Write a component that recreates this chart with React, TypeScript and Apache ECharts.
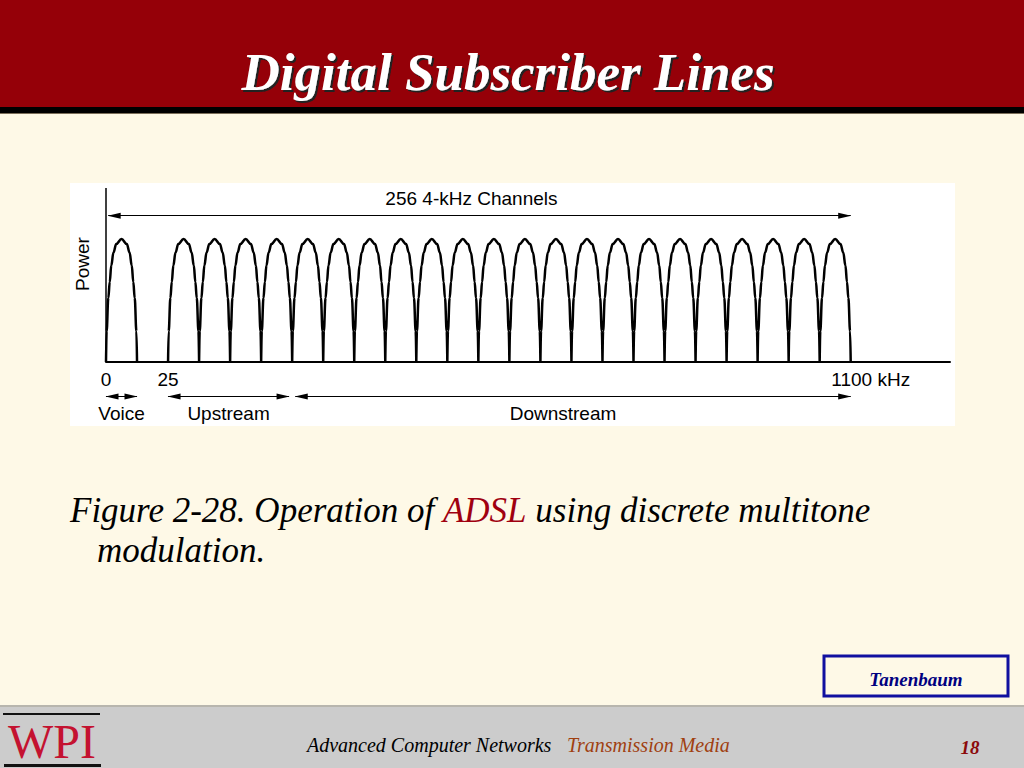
import React, { useEffect, useRef } from "react";
import * as echarts from "echarts";

// ---- data (x in channel units, y in relative power) ----
const channelStarts = [0, 2, 3, 4, 5, 6, 7, 8, 9, 10, 11, 12, 13, 14, 15, 16, 17, 18, 19, 20, 21, 22, 23];
const channelPeaks = [1, 1, 1, 1, 1, 1, 1, 1, 1, 1, 1, 1, 1, 1, 1, 1, 1, 1, 1, 1, 1, 1, 1];
// shape of one channel lobe (relative position, relative power)
const lobeT = [0, 0.02, 0.075, 0.12, 0.17, 0.24, 0.33, 0.5, 0.67, 0.76, 0.83, 0.88, 0.925, 0.98, 1];
const lobeH = [0, 0.25, 0.52, 0.65, 0.785, 0.89, 0.96, 1, 0.96, 0.89, 0.785, 0.65, 0.52, 0.25, 0];

const bandNames = ["256 4-kHz Channels", "Voice", "Upstream", "Downstream"];
const bandFrom = [0.07, 0, 2, 6.1];
const bandTo = [24, 1, 5.9, 24];
const bandLabelShift = [-8, 0, 0, -10];

const tickValues = [0, 2, 24];
const tickLabels = ["0", "25", "1100 kHz"];

const SANS = '"Liberation Sans", Arial, Helvetica, sans-serif';
const SERIF = '"Liberation Serif", "Times New Roman", serif';

export default function App() {
  const ref = useRef<HTMLDivElement>(null);

  useEffect(() => {
    if (!ref.current) return;
    const chart = echarts.init(ref.current, undefined, { renderer: "svg" });

    const lobeData: any[] = [];
    channelStarts.forEach((s, i) => {
      lobeT.forEach((t, j) => lobeData.push([s + t, lobeH[j] * channelPeaks[i]]));
      lobeData.push([s + 1, "-"]);
    });

    const head = { symbol: "triangle", symbolSize: [6, 13], symbolOffset: [0, 6] };
    const bandLines = bandNames.map((name, i) => {
      const y = i === 0 ? 1.19 : -0.28;
      return [
        {
          coord: [bandFrom[i], y],
          name,
          ...head,
          label: {
            show: true,
            formatter: "{b}",
            position: i === 0 ? "insideMiddleTop" : "insideMiddleBottom",
            distance: 8,
            offset: [bandLabelShift[i], 0],
            color: "#000",
            fontSize: 19,
            fontFamily: SANS,
          },
        },
        { coord: [bandTo[i], y], ...head },
      ];
    });

    const option: any = {
      animation: false,
      backgroundColor: "#FEF9E7",
      textStyle: { fontFamily: SANS },
      grid: { left: 106, top: 188, width: 844, height: 238, show: false },
      xAxis: {
        type: "value",
        min: 0,
        max: 27.2,
        interval: 1,
        offset: -64,
        axisLine: { show: true, onZero: false, lineStyle: { color: "#000", width: 2 } },
        axisTick: { show: false },
        splitLine: { show: false },
        axisLabel: {
          customValues: tickValues,
          margin: 8,
          color: "#000",
          fontSize: 19,
          fontFamily: SANS,
          formatter: (v: number) => {
            const k = tickValues.indexOf(v);
            if (k < 0) return "";
            if (k === tickValues.length - 1) return "{w|" + tickLabels[k] + "}";
            return tickLabels[k];
          },
          rich: {
            w: { padding: [0, 0, 0, 40], fontSize: 19, fontFamily: SANS, color: "#000" },
          },
        },
      },
      yAxis: {
        type: "value",
        min: -0.52,
        max: 1.415,
        show: true,
        axisLine: { show: false },
        axisTick: { show: false },
        axisLabel: { show: false },
        splitLine: { show: false },
      },
      series: [
        {
          name: "Power axis",
          type: "line",
          data: [
            [0, 0],
            [0, 1.415],
          ],
          showSymbol: false,
          symbol: "none",
          silent: true,
          lineStyle: { color: "#000", width: 1.5 },
          z: 3,
        },
        {
          name: "Channels",
          type: "line",
          data: lobeData,
          showSymbol: false,
          symbol: "none",
          smooth: 0.4,
          smoothMonotone: "x",
          connectNulls: false,
          silent: true,
          lineStyle: { color: "#000", width: 2.5 },
          z: 4,
          markLine: {
            silent: true,
            symbol: ["triangle", "triangle"],
            symbolSize: 13,
            lineStyle: { color: "#000", width: 1, type: "solid" },
            itemStyle: { color: "#000" },
            data: bandLines,
          },
        },
      ],
      graphic: [
        // header band
        { type: "rect", shape: { x: 0, y: 0, width: 1024, height: 107 }, style: { fill: "#950008" }, z: 0 },
        { type: "rect", shape: { x: 0, y: 107, width: 1024, height: 6 }, style: { fill: "#000" }, z: 0 },
        { type: "rect", shape: { x: 0, y: 113, width: 1024, height: 1 }, style: { fill: "#7a6e5a" }, z: 0 },
        {
          type: "text",
          x: 508,
          y: 72,
          z: 1,
          style: {
            text: "Digital Subscriber Lines",
            font: "italic bold 53px " + SERIF,
            fill: "#fff",
            align: "center",
            verticalAlign: "middle",
            textShadowColor: "#222",
            textShadowOffsetX: 2,
            textShadowOffsetY: 2,
            textShadowBlur: 1,
          },
        },
        // figure panel
        { type: "rect", shape: { x: 70, y: 183, width: 885, height: 243 }, style: { fill: "#fff" }, z: 0 },
        {
          type: "text",
          x: 82,
          y: 264,
          rotation: Math.PI / 2,
          z: 1,
          style: {
            text: "Power",
            font: "19px " + SANS,
            fill: "#000",
            align: "center",
            verticalAlign: "middle",
          },
        },
        // caption
        {
          type: "text",
          x: 70,
          y: 510,
          z: 1,
          style: {
            text: "{k|Figure 2-28. Operation of }{r|ADSL}{k| using discrete multitone}",
            align: "left",
            verticalAlign: "middle",
            rich: {
              k: { font: "italic 35px " + SERIF, fill: "#000" },
              r: { font: "italic 35px " + SERIF, fill: "#A00010" },
            },
          },
        },
        {
          type: "text",
          x: 97,
          y: 550,
          z: 1,
          style: {
            text: "modulation.",
            font: "italic 35px " + SERIF,
            fill: "#000",
            align: "left",
            verticalAlign: "middle",
          },
        },
        // Tanenbaum box
        {
          type: "rect",
          shape: { x: 824, y: 656, width: 184, height: 40 },
          style: { fill: "#FEF9E7", stroke: "#1010A0", lineWidth: 3 },
          z: 1,
        },
        {
          type: "text",
          x: 916,
          y: 679,
          z: 2,
          style: {
            text: "Tanenbaum",
            font: "italic bold 19px " + SERIF,
            fill: "#000080",
            align: "center",
            verticalAlign: "middle",
          },
        },
        // footer
        { type: "rect", shape: { x: 0, y: 705, width: 1024, height: 63 }, style: { fill: "#CCCCCC" }, z: 0 },
        { type: "rect", shape: { x: 0, y: 705, width: 1024, height: 2 }, style: { fill: "#B8B6AE" }, z: 0 },
        { type: "rect", shape: { x: 3, y: 713, width: 97, height: 2 }, style: { fill: "#111" }, z: 1 },
        { type: "rect", shape: { x: 4, y: 764, width: 97, height: 3 }, style: { fill: "#111" }, z: 1 },
        {
          type: "text",
          x: 52,
          y: 741,
          z: 1,
          style: {
            text: "WPI",
            font: "48px " + SERIF,
            fill: "#C41230",
            align: "center",
            verticalAlign: "middle",
          },
        },
        {
          type: "text",
          x: 307,
          y: 745,
          z: 1,
          style: {
            text: "Advanced Computer Networks",
            font: "italic 20px " + SERIF,
            fill: "#000",
            align: "left",
            verticalAlign: "middle",
          },
        },
        {
          type: "text",
          x: 567,
          y: 745,
          z: 1,
          style: {
            text: "Transmission Media",
            font: "italic 20px " + SERIF,
            fill: "#A04010",
            align: "left",
            verticalAlign: "middle",
          },
        },
        {
          type: "text",
          x: 970,
          y: 747,
          z: 1,
          style: {
            text: "18",
            font: "italic bold 19px " + SERIF,
            fill: "#8B0A0A",
            align: "center",
            verticalAlign: "middle",
          },
        },
      ],
    };

    chart.setOption(option);
    return () => chart.dispose();
  }, []);

  return (
    <div
      ref={ref}
      style={{ position: "fixed", left: 0, top: 0, width: 1024, height: 768 }}
    />
  );
}
